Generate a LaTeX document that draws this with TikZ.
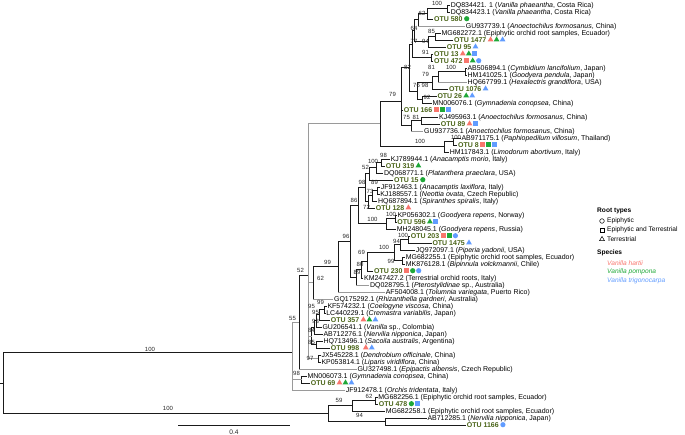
\documentclass[tikz,border=0pt]{standalone}
\usepackage{fontspec}
\setmainfont{Liberation Sans}
\usetikzlibrary{shapes.geometric}
\definecolor{cr}{HTML}{F8766D}
\definecolor{cg}{HTML}{1FA838}
\definecolor{cb}{HTML}{619CFF}
\definecolor{otu}{HTML}{4A6418}
\definecolor{gl}{HTML}{9A9A9A}
\definecolor{bl}{HTML}{1A1A1A}
\newcommand\lff{\fontsize{7}{8}\selectfont}
\newcommand\bsf{\fontsize{6}{7}\selectfont}
\newcommand\lgf{\fontsize{6.6}{7.5}\selectfont}
\tikzset{
 br/.style={draw=bl, line width=0.95pt},
 gb/.style={draw=gl, line width=0.95pt},
 lf/.style={anchor=west, inner sep=0pt, inner xsep=0.6pt, font=\lff, text=black, text height=5pt, text depth=0pt},
 ot/.style={lf, font=\lff\bfseries, text=otu},
 bs/.style={inner sep=0pt, font=\bsf, text=black!85},
 mkt/.style={regular polygon, regular polygon sides=3, minimum size=6.6pt, inner sep=0pt, draw=none},
 mks/.style={rectangle, minimum size=4.9pt, inner sep=0pt, draw=none},
 mkc/.style={circle, minimum size=5.2pt, inner sep=0pt, draw=none},
}
\newcommand\mk[4]{\node[mk#1, fill=#2] at ([xshift=3.4pt+6pt*#4, yshift=0.3pt]#3.east) {};}
\newcommand\eg[2]{\draw[br] (#1) |- (#1 |- #2.west); \draw[gb] (#1 |- #2.west) -- (#2.west);}
\begin{document}
\begin{tikzpicture}[x=1pt,y=-1pt]
\useasboundingbox (0,0) rectangle (685,435);
% ---------------- leaves ----------------
\node[lf] (l1) at (450,5) {DQ834421. 1 (\textit{Vanilla phaeantha}, Costa Rica)};
\node[lf] (l2) at (450,12) {DQ834423.1 (\textit{Vanilla phaeantha}, Costa Rica)};
\node[ot] (o580) at (433.3,19) {OTU 580};
\node[lf] (l4) at (465,26) {GU937739.1 (\textit{Anoectochilus formosanus}, China)};
\node[lf] (l5) at (440.7,33) {MG682272.1 (Epiphytic orchid root samples, Ecuador)};
\node[ot] (o1477) at (453.3,40) {OTU 1477};
\node[ot] (o95) at (446,47) {OTU 95};
\node[ot] (o13) at (433.3,54) {OTU 13};
\node[ot] (o472) at (433.3,61) {OTU 472};
\node[lf] (l10) at (466.7,68) {AB506894.1 (\textit{Cymbidium lancifolium}, Japan)};
\node[lf] (l11) at (466.7,75) {HM141025.1 (\textit{Goodyera pendula}, Japan)};
\node[lf] (l12) at (466.7,82) {HQ667799.1 (\textit{Hexalectris grandiflora}, USA)};
\node[ot] (o1076) at (448.3,89) {OTU 1076};
\node[ot] (o26) at (436.7,96) {OTU 26};
\node[lf] (l15) at (431.7,103) {MN006076.1 (\textit{Gymnadenia conopsea}, China)};
\node[ot] (o166) at (403,110) {OTU 166};
\node[lf] (l17) at (438.3,117) {KJ495963.1 (\textit{Anoectochilus formosanus}, China)};
\node[ot] (o89) at (440,124) {OTU 89};
\node[lf] (l19) at (423.3,131) {GU937736.1 (\textit{Anoectochilus formosanus}, China)};
\node[lf] (l20) at (460.7,138) {AB971175.1 (\textit{Paphiopedilum villosum}, Thailand)};
\node[ot] (o8) at (457.3,145) {OTU 8};
\node[lf] (l22) at (449,152) {HM117843.1 (\textit{Limodorum abortivum}, Italy)};
\node[lf] (l23) at (390,159) {KJ789944.1 (\textit{Anacamptis morio}, Italy)};
\node[ot] (o319) at (385,166) {OTU 319};
\node[lf] (l25) at (383.3,173) {DQ068771.1 (\textit{Platanthera praeclara}, USA)};
\node[ot] (o15) at (393.3,180) {OTU 15};
\node[lf] (l27) at (380,187) {JF912463.1 (\textit{Anacamptis laxiflora}, Italy)};
\node[lf] (l28) at (379.5,194) {KJ188557.1 (\textit{Neottia ovata}, Czech Republic)};
\node[lf] (l29) at (377.3,201) {HQ687894.1 (\textit{Spiranthes spiralis}, Italy)};
\node[ot] (o128) at (375,208) {OTU 128};
\node[lf] (l31) at (396.7,215) {KP056302.1 (\textit{Goodyera repens}, Norway)};
\node[ot] (o596) at (396.5,222) {OTU 596};
\node[lf] (l33) at (396,229) {MH248045.1 (\textit{Goodyera repens}, Russia)};
\node[ot] (o203) at (410,236) {OTU 203};
\node[ot] (o1475) at (431.7,243) {OTU 1475};
\node[lf] (l36) at (415,250) {JQ972097.1 (\textit{Piperia yadonii}, USA)};
\node[lf] (l37) at (405,257) {MG682255.1 (Epiphytic orchid root samples, Ecuador)};
\node[lf] (l38) at (405,264) {MK876128.1 (\textit{Bipinnula volckmannii}, Chile)};
\node[ot] (o230) at (373.3,271) {OTU 230};
\node[lf] (l40) at (363.3,278) {KM247427.2 (Terrestrial orchid roots, Italy)};
\node[lf] (l41) at (369.3,285) {DQ028795.1 (\textit{Pterostylidinae} sp., Australia)};
\node[lf] (l42) at (385,292) {AF504008.1 (\textit{Tolumnia variegata}, Puerto Rico)};
\node[lf] (l43) at (333.3,299) {GQ175292.1 (\textit{Rhizanthella gardneri}, Australia)};
\node[lf] (l44) at (326.7,306) {KF574232.1 (\textit{Coelogyne viscosa}, China)};
\node[lf] (l45) at (325.5,313) {LC440229.1 (\textit{Cremastra variabilis}, Japan)};
\node[ot] (o357) at (330,320) {OTU 357};
\node[lf] (l47) at (321.7,327) {GU206541.1 (\textit{Vanilla} sp., Colombia)};
\node[lf] (l48) at (322.7,334) {AB712276.1 (\textit{Nervilia nipponica}, Japan)};
\node[lf] (l49) at (322.7,341) {HQ713496.1 (\textit{Sacoila australis}, Argentina)};
\node[ot] (o998) at (330,348) {OTU 998};
\node[lf] (l51) at (320.7,355) {JX545228.1 (\textit{Dendrobium officinale}, China)};
\node[lf] (l52) at (320.7,362) {KP053814.1 (\textit{Liparis viridiflora}, China)};
\node[lf] (l53) at (356.7,369) {GU327498.1 (\textit{Epipactis albensis}, Czech Republic)};
\node[lf] (l54) at (306.7,376) {MN006073.1 (\textit{Gymnadenia conopsea}, China)};
\node[ot] (o69) at (310,383) {OTU 69};
\node[lf] (l56) at (345,390) {JF912478.1 (\textit{Orchis tridentata}, Italy)};
\node[lf] (l57) at (377.5,397) {MG682256.1 (Epiphytic orchid root samples, Ecuador)};
\node[ot] (o478) at (378,404) {OTU 478};
\node[lf] (l59) at (385,411) {MG682258.1 (Epiphytic orchid root samples, Ecuador)};
\node[lf] (l60) at (426.7,418) {AB712285.1 (\textit{Nervilia nipponica}, Japan)};
\node[ot] (o1166) at (466,425) {OTU 1166};
% ---------------- markers ----------------
\mk{c}{cg}{o580}{0}
\mk{t}{cr}{o1477}{0}\mk{t}{cg}{o1477}{1}\mk{t}{cb}{o1477}{2}
\mk{t}{cb}{o95}{0}
\mk{t}{cr}{o13}{0}\mk{t}{cg}{o13}{1}\mk{s}{cb}{o13}{2}
\mk{s}{cr}{o472}{0}\mk{t}{cg}{o472}{1}\mk{c}{cb}{o472}{2}
\mk{t}{cb}{o1076}{0}
\mk{t}{cg}{o26}{0}\mk{t}{cb}{o26}{1}
\mk{s}{cr}{o166}{0}\mk{s}{cg}{o166}{1}\mk{s}{cb}{o166}{2}
\mk{t}{cr}{o89}{0}\mk{s}{cb}{o89}{1}
\mk{s}{cr}{o8}{0}\mk{s}{cg}{o8}{1}\mk{s}{cb}{o8}{2}
\mk{t}{cg}{o319}{0}
\mk{c}{cg}{o15}{0}
\mk{t}{cr}{o128}{0}
\mk{t}{cg}{o596}{0}\mk{s}{cb}{o596}{1}
\mk{s}{cr}{o203}{0}\mk{s}{cg}{o203}{1}\mk{c}{cb}{o203}{2}
\mk{t}{cb}{o1475}{0}
\mk{s}{cr}{o230}{0}\mk{c}{cg}{o230}{1}\mk{c}{cb}{o230}{2}
\mk{t}{cr}{o357}{0}\mk{t}{cg}{o357}{1}\mk{t}{cb}{o357}{2}
\mk{t}{cr}{o998}{0.4}\mk{t}{cb}{o998}{1.4}
\mk{t}{cr}{o69}{0}\mk{t}{cg}{o69}{1}\mk{t}{cb}{o69}{2}
\mk{c}{cg}{o478}{0}\mk{s}{cb}{o478}{1}
\mk{c}{cb}{o1166}{0}
% ---------------- internal nodes ----------------
\coordinate (N1) at (447.7,8.5);
\coordinate (N2) at (427.3,13.75);
\coordinate (N3) at (418,19.9);
\coordinate (N5) at (435,36.5);
\coordinate (N6) at (428,41.75);
\coordinate (N10) at (414,30.8);
\coordinate (N7) at (431,57.5);
\coordinate (N11) at (412,44.2);
\coordinate (Z1) at (465,71.5);
\coordinate (Z2) at (438.3,76.75);
\coordinate (Z3) at (432,82.9);
\coordinate (W) at (422,99.5);
\coordinate (V) at (417,91.2);
\coordinate (R) at (409,67.7);
\coordinate (T) at (421,120.5);
\coordinate (S) at (411,125.75);
\coordinate (Q) at (401.7,101.2);
\coordinate (P1) at (453,141.5);
\coordinate (P) at (444,146.75);
\coordinate (K) at (380,123.9);
\coordinate (M1) at (381,162.5);
\coordinate (M2) at (376,167.75);
\coordinate (M3) at (369.5,173.9);
\coordinate (M4) at (377,190.5);
\coordinate (M5) at (372.5,195.75);
\coordinate (M6) at (368,201.9);
\coordinate (M7) at (365,187.9);
\coordinate (M8) at (395,218.5);
\coordinate (M9) at (386,223.75);
\coordinate (M10) at (358.3,205.8);
\coordinate (H2a) at (408,239.5);
\coordinate (H2) at (400,244.75);
\coordinate (H3) at (402,260.5);
\coordinate (H1) at (394,252.6);
\coordinate (H) at (367,261.8);
\coordinate (Hx) at (361.5,269.9);
\coordinate (H00) at (356,277.45);
\coordinate (E2) at (350,241.6);
\coordinate (E1) at (338.3,266.8);
\coordinate (E) at (313.3,282.9);
\coordinate (F1) at (324,309.5);
\coordinate (F2) at (319,314.75);
\coordinate (F2b) at (316.5,320.9);
\coordinate (F2c) at (314,327.4);
\coordinate (F3) at (316.5,344.5);
\coordinate (F4) at (311.5,336);
\coordinate (G) at (318.3,358.5);
\coordinate (C) at (308.3,275.2);
\coordinate (B) at (299,322.1);
\coordinate (D) at (301.7,379.5);
\coordinate (A) at (292.7,352.7);
\coordinate (BC) at (375,400.5);
\coordinate (BB) at (352.7,405.75);
\coordinate (BD) at (385,421.5);
\coordinate (BA) at (328.3,413.6);
\coordinate (RT) at (3.3,383.2);
\coordinate (RS) at (0,383.2);
% ---------------- branches ----------------
\foreach \p/\c in {N1/l1.west,N1/l2.west,N2/N1,N2/o580.west,N3/N2,
 N5/l5.west,N5/o1477.west,N6/N5,N6/o95.west,N10/N3,N10/N6,N7/o13.west,N7/o472.west,
 N11/N10,N11/N7,Z1/l10.west,Z1/l11.west,Z2/Z1,Z3/Z2,Z3/o1076.west,W/o26.west,W/l15.west,
 V/Z3,V/W,R/N11,R/V,T/l17.west,T/o89.west,S/T,Q/R,Q/o166.west,Q/S,
 P1/l20.west,P1/o8.west,P/P1,P/l22.west,K/Q,K/P,
 M1/l23.west,M1/o319.west,M2/M1,M2/l25.west,M3/M2,M3/o15.west,M4/l27.west,M4/l28.west,
 M5/M4,M5/l29.west,M6/M5,M6/o128.west,M7/M3,M7/M6,M8/l31.west,M8/o596.west,M9/M8,M9/l33.west,
 M10/M7,M10/M9,H2a/o203.west,H2a/o1475.west,H2/H2a,H2/l36.west,H3/l37.west,H3/l38.west,
 H1/H2,H1/H3,H/H1,H/o230.west,Hx/H,Hx/l40.west,H00/Hx,E2/M10,E2/H00,E1/E2,E/E1,
 F1/l44.west,F1/l45.west,F2/F1,F2/o357.west,F2b/F2,F2b/l47.west,F2c/F2b,F2c/l48.west,
 F3/l49.west,F3/o998.west,F4/F2c,F4/F3,G/l51.west,G/l52.west,B/C,
 D/l54.west,D/o69.west,BC/l57.west,BC/o478.west,BB/BC,BB/l59.west,BD/l60.west,BD/o1166.west,
 BA/BB,BA/BD,RT/A,RT/BA}
 {\draw[br] (\p) |- (\c);}
\draw[br] (RS) -- (RT);
\foreach \c in {K,E,F4,G} {\draw[gb] (C) |- (\c);}
\foreach \c in {B,D,l56.west} {\draw[gb] (A) |- (\c);}
\eg{N3}{l4}\eg{Z2}{l12}\eg{S}{l19}\eg{H00}{l41}\eg{E1}{l42}\eg{E}{l43}\eg{B}{l53}
% ---------------- bootstrap labels ----------------
\foreach \x/\y/\t [count=\i] in {437/3.5/100,422/13/62,414/28/64,431.5/31/85,414/41.7/77,425.5/41.7/94,
 425.5/52.7/91,407.5/67/82,431.5/67/81,451/67/100,425.5/74.5/79,416.5/85.7/76,425/85.7/98,
 427/97/92,392.5/94/79,406.5/117/75,416/117/81,420/141.7/100,456/137/100,
 383.5/155/98,373/161.7/100,365.5/167.5/52,362/182.5/98,374.5/182.5/89,370/191.7/73,
 354/200/86,366.5/207/72,391/214.5/100,372.5/219.7/100,403/235/100,346/236.7/96,
 396.5/241/94,384/247.5/100,361.5/252.5/69,391/261/99,360/264.2/80,357/272.7/89,
 327.5/262/99,320.5/278/62,300.5/270/52,320.5/302/99,311.5/306.7/95,315.5/312.3/95,
 315.5/321.5/93,311.5/330/84,311.5/342.3/85,310/358.3/97,296.5/373.5/98,292.5/318/55,
 150/349/100,369/396.7/62,339/400.7/59,168/408/100,359.5/415.7/94}
 {\node[bs] (bs\i) at (\x,\y) {\t};}
% ---------------- scale bar ----------------
\coordinate (sb1) at (178,425.7);
\coordinate (sb2) at (290,425.7);
\draw[br, line width=0.8pt] (sb1) -- (sb2);
\node[bs, font=\fontsize{6.6}{7}\selectfont] (sbt) at (234,432.5) {0.4};
% ---------------- legend ----------------
\node[anchor=west, inner sep=0pt, font=\lgf\bfseries] (lgr) at (597,211) {Root types};
\node[circle, draw=black, line width=0.5pt, minimum size=4.6pt, inner sep=0pt] (lg1s) at (602,221) {};
\node[anchor=west, inner sep=0pt, font=\lgf] (lg1) at (607,221) {Epiphytic};
\node[rectangle, draw=black, line width=0.5pt, minimum size=4.3pt, inner sep=0pt] (lg2s) at (602,230) {};
\node[anchor=west, inner sep=0pt, font=\lgf] (lg2) at (607,230) {Epiphytic and Terrestrial};
\node[regular polygon, regular polygon sides=3, draw=black, line width=0.5pt, minimum size=5.8pt, inner sep=0pt] (lg3s) at (602,239.3) {};
\node[anchor=west, inner sep=0pt, font=\lgf] (lg3) at (607,239) {Terrestrial};
\node[anchor=west, inner sep=0pt, font=\lgf\bfseries] (lgs) at (597,253) {Species};
\node[anchor=west, inner sep=0pt, font=\lgf\itshape, text=cr] (lgh) at (607,263) {Vanilla hartii};
\node[anchor=west, inner sep=0pt, font=\lgf\itshape, text=cg] (lgp) at (607,272) {Vanilla pompona};
\node[anchor=west, inner sep=0pt, font=\lgf\itshape, text=cb] (lgt) at (607,281) {Vanilla trigonocarpa};
\end{tikzpicture}
\end{document}
